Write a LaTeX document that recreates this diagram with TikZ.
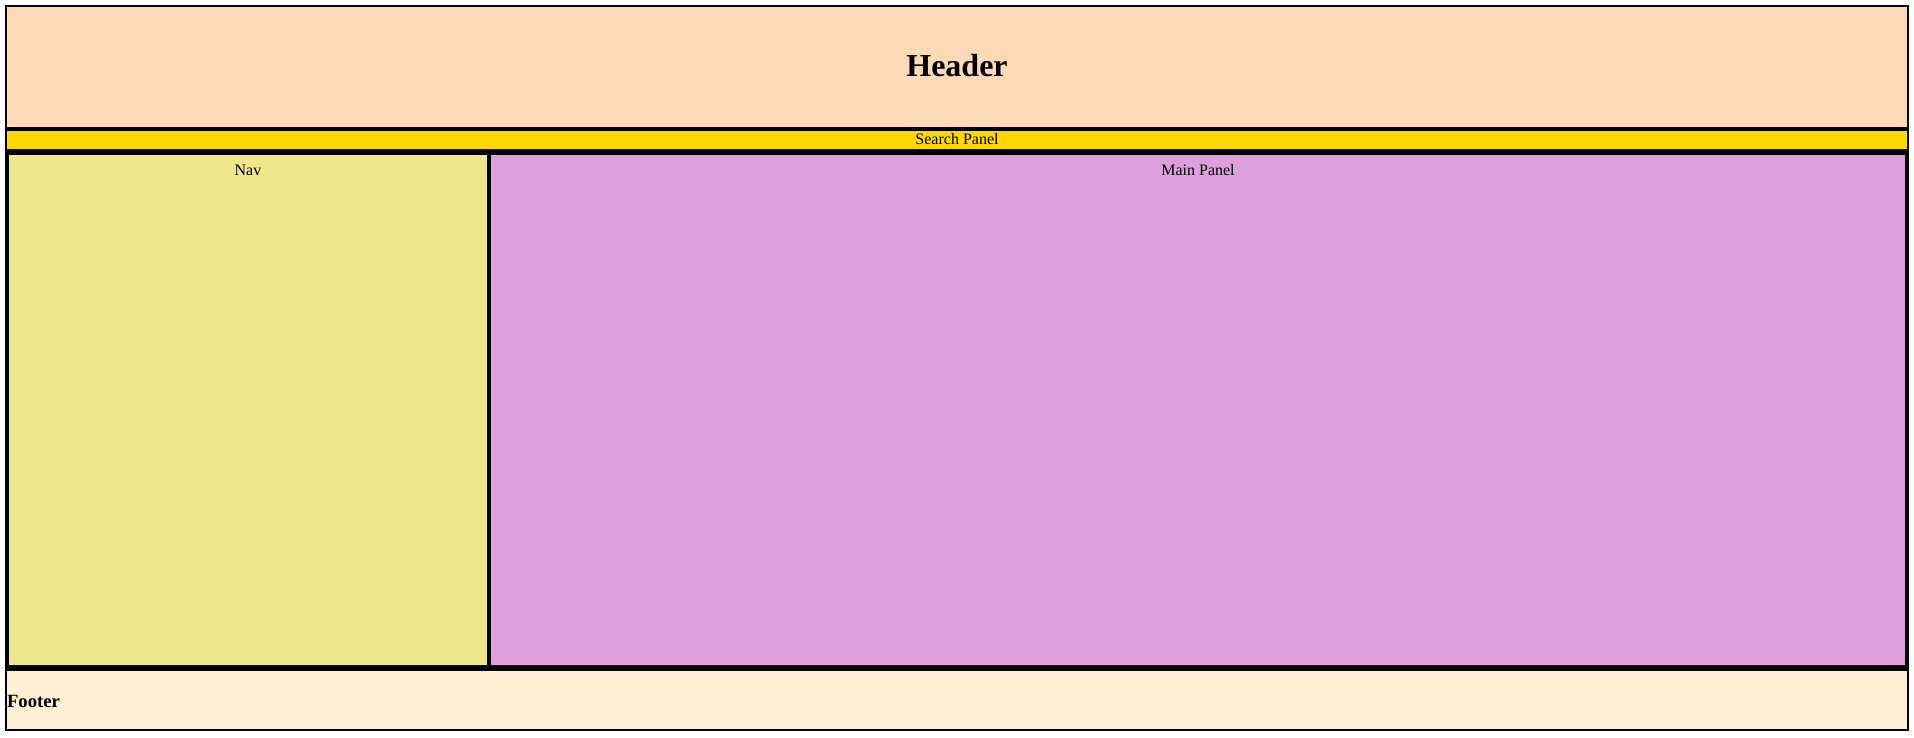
\documentclass[tikz,border=0pt]{standalone}
\usepackage{fontspec}
\setmainfont{Liberation Serif}
\definecolor{hdr}{HTML}{FFDAB9}
\definecolor{srch}{HTML}{FFD700}
\definecolor{navc}{HTML}{F0E68C}
\definecolor{mainc}{HTML}{DDA0DD}
\definecolor{ftr}{HTML}{FFEFD5}
\begin{document}
\begin{tikzpicture}[x=1pt,y=-1pt,
  panel/.style={draw=black,rectangle,inner sep=0pt,outer sep=0pt},
  thin/.style={panel,line width=2pt},
  thick/.style={panel,line width=4pt},
  lbl/.style={inner sep=0pt,outer sep=0pt,anchor=base,font=\fontsize{16}{19}\selectfont}]
\useasboundingbox (0,0) rectangle (1914,737);
\node[thin,fill=hdr,minimum width=1902pt,minimum height=122pt] (header) at (957,67) {};
\node[thin,fill=ftr,minimum width=1902pt,minimum height=60pt] (footer) at (957,700) {};
\node[thin,fill=srch,minimum width=1902pt,minimum height=20pt] (search) at (957,140) {};
\node[thick,fill=navc,minimum width=482pt,minimum height=514pt] (nav) at (248,410) {};
\node[thick,fill=mainc,minimum width=1418pt,minimum height=514pt] (main) at (1198,410) {};
\node[lbl,font=\fontsize{32}{38}\selectfont\bfseries] (headert) at (957,76.7) {Header};
\node[lbl] (searcht) at (957,144) {Search Panel};
\node[lbl] (navt) at (248,175) {Nav};
\node[lbl] (maint) at (1198,175) {Main Panel};
\node[lbl,anchor=base west,font=\fontsize{18.7}{22}\selectfont\bfseries] (footert) at (7,707) {Footer};
\end{tikzpicture}
\end{document}
